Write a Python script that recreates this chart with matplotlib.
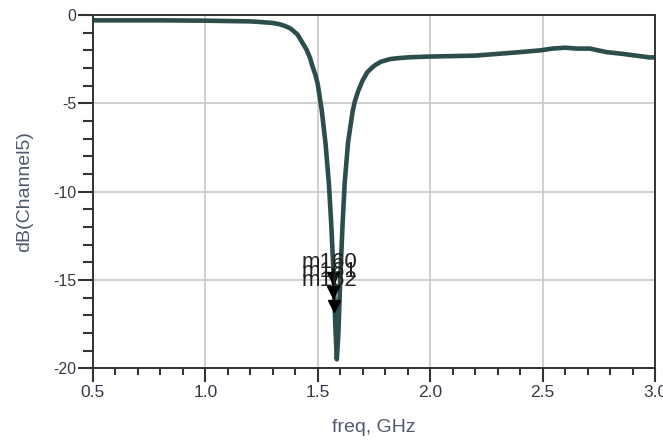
import numpy as np
import matplotlib
matplotlib.use("Agg")
import matplotlib.pyplot as plt
from matplotlib.ticker import MultipleLocator

plt.rcParams['font.family'] = ['Liberation Sans', 'DejaVu Sans']

# values (freq in GHz, dB)
freq = [0.5, 0.8, 1.0, 1.2, 1.25, 1.3, 1.33, 1.35, 1.376, 1.39, 1.41, 1.433, 1.45,
        1.465, 1.478, 1.49, 1.50, 1.518, 1.535, 1.55, 1.56, 1.57, 1.578, 1.585,
        1.592, 1.60, 1.61, 1.62, 1.635, 1.656, 1.665, 1.68, 1.70, 1.72, 1.744,
        1.76, 1.78, 1.82, 1.85, 1.91, 2.0, 2.2, 2.3, 2.4, 2.49, 2.544, 2.6, 2.65,
        2.71, 2.784, 2.856, 2.976, 3.0]
db = [-0.3, -0.3, -0.32, -0.36, -0.4, -0.45, -0.52, -0.6, -0.74, -0.88, -1.1, -1.59,
      -1.95, -2.4, -2.95, -3.4, -3.9, -5.4, -7.3, -9.6, -11.8, -14.5, -17.5, -19.5,
      -18.0, -15.0, -12.0, -9.5, -7.2, -5.4, -4.9, -4.3, -3.7, -3.25, -2.95, -2.8,
      -2.65, -2.5, -2.45, -2.39, -2.35, -2.3, -2.2, -2.1, -2.0, -1.9, -1.85, -1.9,
      -1.9, -2.1, -2.2, -2.4, -2.4]

marker_names = ["m160", "m161", "m162"]
marker_freq = [1.567, 1.569, 1.571]
marker_db = [-14.9, -15.7, -16.5]
label_db = [-14.0, -14.5, -15.05]

fig = plt.figure(figsize=(6.63, 4.42), dpi=100)
ax = fig.add_axes([0.140, 0.167, 0.848, 0.799])

ax.plot(freq, db, color='#2b4d4b', linewidth=3.3, solid_joinstyle='round',
        solid_capstyle='round')

# markers: down triangles with their labels stacked on top of each other
for name, f, d, ld in zip(marker_names, marker_freq, marker_db, label_db):
    ax.plot([f, f], [ld - 0.4, d], color='black', linewidth=1.2)
    ax.plot(f, d, marker='v', color='black', markersize=8)
    ax.text(1.43, ld, name, fontsize=16, color='#222222', va='center', ha='left')

ax.set_xlim(0.5, 3.0)
ax.set_ylim(-20, 0)
ax.xaxis.set_minor_locator(MultipleLocator(0.1))
ax.yaxis.set_minor_locator(MultipleLocator(1))
ax.set_xticks([0.5, 1.0, 1.5, 2.0, 2.5, 3.0])
ax.set_xticklabels(["0.5", "1.0", "1.5", "2.0", "2.5", "3.0"])
ax.set_yticks([0, -5, -10, -15, -20])
ax.set_yticklabels(["0", "-5", "-10", "-15", "-20"])

ax.grid(True, which='major', color='#c8c8c8', linewidth=1.2)
ax.set_axisbelow(True)
for s in ax.spines.values():
    s.set_color('#333333')
    s.set_linewidth(1.4)

ax.tick_params(axis='x', which='major', direction='out', length=10, width=1.5,
               color='#333333', labelsize=12.5, labelcolor='#333a45', pad=2)
ax.tick_params(axis='x', which='minor', direction='out', length=5, width=1.5,
               color='#333333')
ax.tick_params(axis='y', which='major', direction='out', length=11, width=1.5,
               color='#333333', labelsize=11.5, labelcolor='#333a45', pad=1)
ax.tick_params(axis='y', which='minor', direction='out', length=7, width=1.5,
               color='#333333')

ax.set_xlabel("freq, GHz", fontsize=14, color='#4f5a6e', labelpad=14)
ax.set_ylabel("dB(Channel5)", fontsize=14, color='#4f5a6e', labelpad=14)

fig.savefig("out.png", dpi=100)
